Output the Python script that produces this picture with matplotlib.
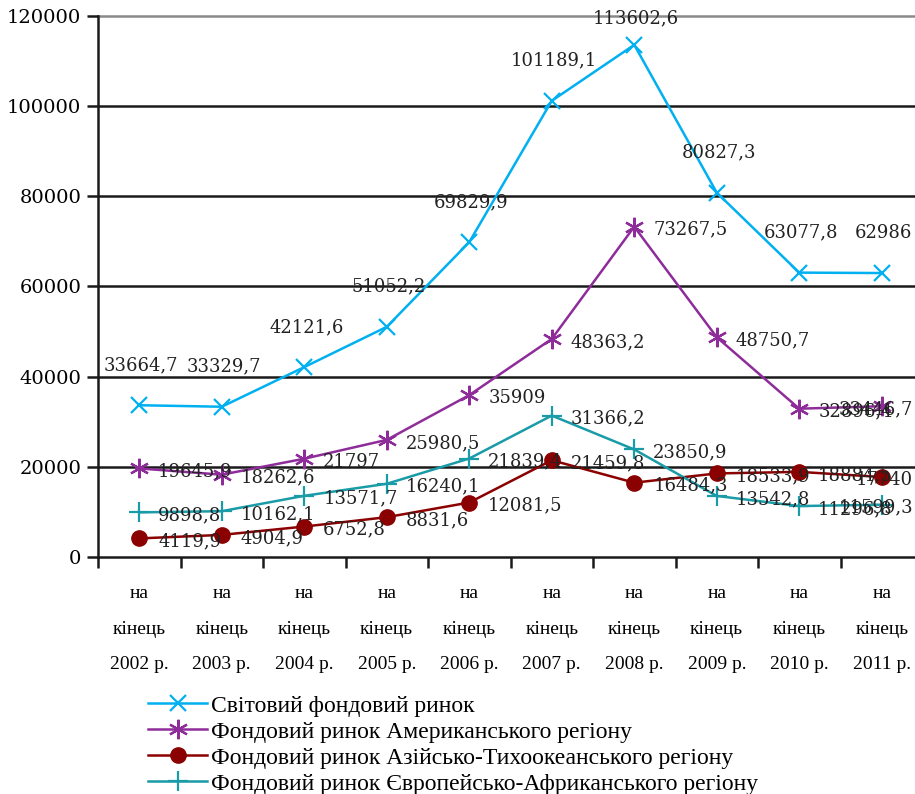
import matplotlib
matplotlib.use("Agg")
import matplotlib.pyplot as plt

years = ["2002", "2003", "2004", "2005", "2006", "2007", "2008", "2009", "2010", "2011"]
world = [33664.7, 33329.7, 42121.6, 51052.2, 69829.9, 101189.1, 113602.6, 80827.3, 63077.8, 62986]
america = [19645.9, 18262.6, 21797, 25980.5, 35909, 48363.2, 73267.5, 48750.7, 32896.4, 33446.7]
asia = [4119.9, 4904.9, 6752.8, 8831.6, 12081.5, 21459.8, 16484.3, 18533.9, 18884.5, 17740]
europe = [9898.8, 10162.1, 13571.7, 16240.1, 21839.4, 31366.2, 23850.9, 13542.8, 11296.8, 11599.3]

names = ["Світовий фондовий ринок",
         "Фондовий ринок Американського регіону",
         "Фондовий ринок Азійсько-Тихоокеанського регіону",
         "Фондовий ринок Європейсько-Африканського регіону"]
yticks = [0, 20000, 40000, 60000, 80000, 100000, 120000]

def fmt(v):
    s = ("%.1f" % v)
    if s.endswith(".0"):
        s = s[:-2]
    return s.replace(".", ",")

DPI = 100
W, H = 915, 794
AX_L, AX_T, AX_B, AX_W = 98, 16, 557, 825
fig = plt.figure(figsize=(W / DPI, H / DPI), dpi=DPI)
ax = fig.add_axes([AX_L / W, (H - AX_B) / H, AX_W / W, (AX_B - AX_T) / H])

x = list(range(len(years)))
styles = [
    (world, "#00B0F0", dict(marker="x", markersize=11, markeredgewidth=1.6)),
    (america, "#8E2C9A", dict(marker=(6, 2, 0), markersize=14, markeredgewidth=1.6)),
    (asia, "#8B0000", dict(marker="o", markersize=11)),
    (europe, "#1A9BA8", dict(marker="+", markersize=14, markeredgewidth=1.6)),
]
handles = []
for (vals, col, mk), nm in zip(styles, names):
    ln, = ax.plot(x, vals, color=col, lw=1.8, markerfacecolor=col, markeredgecolor=col,
                  zorder=4, clip_on=False, label=nm, **mk)
    handles.append(ln)

ax.set_ylim(0, 120000)
ax.set_xlim(-0.5, 9.5)

lab_font = dict(family="DejaVu Serif", fontsize=13, color="#222222")
ymax = 120000.0
for i, v in enumerate(world):
    pt_y = AX_T + (ymax - v) / ymax * (AX_B - AX_T)
    dy = min(40, pt_y - 18)
    ax.annotate(fmt(v), (i, v), xytext=(2, dy), textcoords="offset pixels",
                ha="center", va="center", zorder=6, **lab_font)

last = len(years) - 1
last_px = AX_L + (last + 0.5) / len(years) * AX_W
for ser in (america, asia, europe):
    for i, v in enumerate(ser):
        if i == last:
            ax.annotate(fmt(v), (i, v), xytext=(W - 2 - last_px, -3), textcoords="offset pixels",
                        ha="right", va="center", zorder=6, **lab_font)
        else:
            ax.annotate(fmt(v), (i, v), xytext=(19, -3), textcoords="offset pixels",
                        ha="left", va="center", zorder=6, **lab_font)

ax.set_yticks(yticks)
ax.set_yticklabels([str(t) for t in yticks], family="DejaVu Serif", fontsize=14)
xmax_frac = (W - AX_L) / AX_W
for t in yticks[1:-1]:
    ax.axhline(t, color="#1a1a1a", lw=1.8, zorder=1, xmax=xmax_frac)
ax.axhline(120000, color="#8a8a8a", lw=1.8, zorder=1, xmax=xmax_frac, clip_on=False)

ax.set_xticks([i - 0.5 for i in range(len(years) + 1)])
ax.set_xticklabels([])
ax.set_xticks(x, minor=True)
ax.set_xticklabels(["на\nкінець\n%s р." % y for y in years], minor=True,
                   family="Liberation Serif", fontsize=14, linespacing=2.45)
ax.tick_params(axis="x", which="major", length=8, width=1.8, direction="out", color="#1a1a1a")
ax.tick_params(axis="x", which="minor", length=0, pad=20)
ax.tick_params(axis="y", length=8, width=1.8, direction="out", color="#1a1a1a", pad=4)

for s in ("top", "right"):
    ax.spines[s].set_visible(False)
for s in ("left", "bottom"):
    ax.spines[s].set_linewidth(1.8)
    ax.spines[s].set_color("#1a1a1a")

fig.legend(handles=handles, loc="upper left", bbox_to_anchor=(148 / W, (H - 695) / H),
           frameon=False, prop={"family": "Liberation Serif", "size": 17},
           handlelength=2.5, handletextpad=0.15, labelspacing=0.19, borderpad=0,
           borderaxespad=0, numpoints=1)

fig.savefig("out.png", dpi=DPI)
